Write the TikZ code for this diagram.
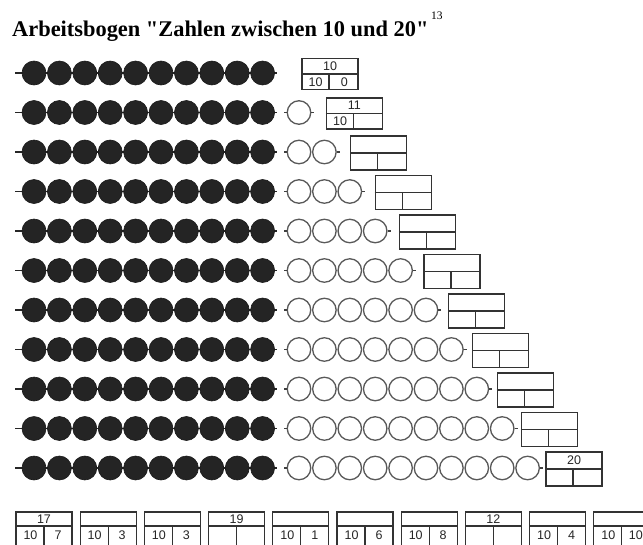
\documentclass[tikz,border=0pt]{standalone}
\usepackage{fontspec}
\setmainfont{Liberation Serif}
\newfontfamily\titlefont{Liberation Serif}
\newfontfamily\numfont{Liberation Sans}
\usetikzlibrary{calc}
\begin{document}
\begin{tikzpicture}[x=1pt,y=-1pt,
  bead/.style={circle,draw=black!90,fill=black!86,line width=0.6pt,minimum size=24pt,inner sep=0pt},
  ring/.style={circle,draw=black!65,line width=1.3pt,minimum size=23.5pt,inner sep=0pt},
  wire/.style={line width=1.4pt,black!85},
  stub/.style={line width=1.3pt,black!75},
  frame/.style={draw=black!80,line width=1.3pt,rectangle,inner sep=0pt,minimum width=56pt},
  divline/.style={draw=black!80,line width=1.3pt},
  num/.style={font=\numfont\fontsize{12.5}{12.5}\selectfont,inner sep=0pt,text=black!85}]
\useasboundingbox (0,0) rectangle (643,544);
\clip (0,0) rectangle (643,544);
\fill[white] (0,0) rectangle (643,544);

% title
\node[anchor=base west,inner sep=0pt,font=\titlefont\bfseries\fontsize{22.4}{23}\selectfont] (title) at (12,36) {Arbeitsbogen "Zahlen zwischen 10 und 20"};
\node[anchor=base west,inner sep=0pt,font=\titlefont\fontsize{11.5}{12}\selectfont] (sup) at (431,19) {13};

% rows
\foreach \k in {0,...,10}{
  \pgfmathsetmacro{\ry}{73+39.5*\k}
  % wire and filled beads
  \coordinate (wl-\k) at (15,\ry);
  \coordinate (wr-\k) at (277,\ry);
  \draw[wire] (wl-\k) -- (wr-\k);
  \foreach \i in {1,...,10}{
    \pgfmathsetmacro{\bx}{34+25.4*(\i-1)}
    \node[bead] (b-\k-\i) at (\bx,\ry) {};
  }
  % open rings
  \ifnum\k>0
    \foreach \j in {1,...,\k}{
      \pgfmathsetmacro{\ox}{299+25.4*(\j-1)}
      \node[ring] (o-\k-\j) at (\ox,\ry) {};
    }
    \draw[stub] (o-\k-1.west) -- ++(-3,0);
    \draw[stub] (o-\k-\k.east) -- ++(3,0);
  \fi
  % answer box
  \pgfmathsetmacro{\bxl}{330+24.4*\k}
  \pgfmathsetmacro{\bh}{ifthenelse(\k<2,31,34)}
  \node[frame,minimum height=\bh pt] (box-\k) at (\bxl,\ry+1) {};
  \draw[divline] (box-\k.west) -- (box-\k.east);
  \draw[divline] ([xshift=-1pt]box-\k.center) -- ([xshift=-1pt]box-\k.south);
}

% numbers in the staircase boxes
\node[num] at ($(box-0.north)!0.5!(box-0.center)$) {10};
\node[num] at ($(box-0.center)!0.5!(box-0.south west)$) {10};
\node[num] at ($(box-0.center)!0.5!(box-0.south east)$) {0};
\node[num] at ($(box-1.north)!0.5!(box-1.center)$) {11};
\node[num] at ($(box-1.center)!0.5!(box-1.south west)$) {10};
\node[num] at ($(box-10.north)!0.5!(box-10.center)$) {20};

% bottom row of exercise boxes
\foreach \i/\t/\a/\b in {0/17/10/7, 1//10/3, 2//10/3, 3/19//, 4//10/1, 5//10/6, 6//10/8, 7/12//, 8//10/4, 9//10/10}{
  \pgfmathsetmacro{\qx}{16+64.2*\i}
  \coordinate (q-\i) at (\qx,512);
  \draw[divline] (\qx,547) -- (q-\i) -- ++(56,0) -- ++(0,35);
  \draw[divline] (\qx,526) -- ++(56,0);
  \draw[divline] (\qx+28,526) -- ++(0,21);
  \node[num] (qt-\i) at (\qx+28,519.5) {\t};
  \node[num] (qa-\i) at (\qx+14.5,535.5) {\a};
  \node[num] (qb-\i) at (\qx+42,535.5) {\b};
}
\end{tikzpicture}
\end{document}
